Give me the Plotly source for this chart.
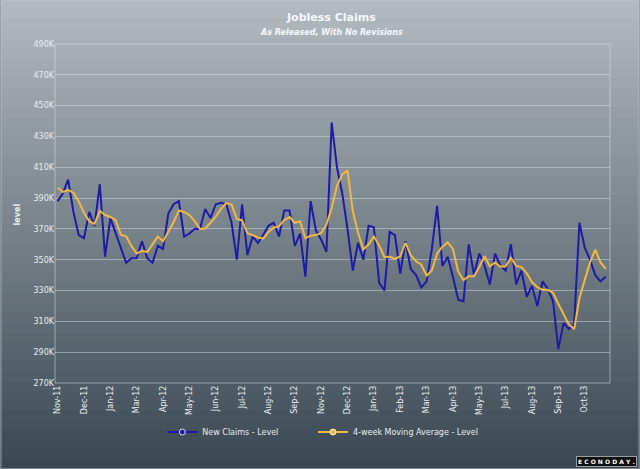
import plotly.graph_objects as go

# ---------------- data (weekly, as released, thousands) ----------------
weeks = list(range(105))
new_claims = [388, 393, 402, 381, 366, 364, 381, 372, 399, 352,
              377, 367, 358, 348, 351, 351, 362, 351, 348, 359,
              357, 380, 386, 388, 365, 367, 370, 370, 383, 377,
              386, 387, 386, 374, 350, 386, 353, 365, 361, 366,
              372, 374, 365, 382, 382, 359, 367, 339, 388, 369,
              363, 355, 439, 410, 393, 370, 343, 361, 350, 372,
              371, 335, 330, 368, 366, 341, 362, 344, 340, 332,
              336, 357, 385, 346, 352, 339, 324, 323, 360, 340,
              354, 346, 334, 354, 346, 343, 360, 334, 343, 326,
              333, 320, 336, 331, 323, 292, 309, 305, 308, 374,
              358, 350, 340, 336, 339]
moving_avg = [396.75, 394.0, 395.25, 393.5, 387.75, 380.5, 375.0, 373.25, 381.75, 379.0,
              377.75, 375.75, 366.25, 365.25, 359.0, 354.0, 355.75, 355.0, 360.0, 365.0,
              362.0, 367.75, 374.25, 382.0, 381.0, 379.0, 375.0, 370.0, 370.25, 374.0,
              378.0, 383.0, 386.75, 385.75, 376.5, 375.5, 367.25, 366.0, 364.5, 363.75,
              368.0, 370.75, 371.75, 375.75, 377.75, 374.0, 375.0, 364.0, 365.5, 366.0,
              367.25, 372.75, 383.75, 398.0, 405.25, 408.0, 381.5, 367.5, 356.75, 360.0,
              365.0, 359.25, 351.75, 352.0, 350.5, 352.25, 361.0, 353.0, 349.0, 346.75,
              339.75, 343.0, 354.0, 358.5, 361.25, 357.0, 342.25, 336.75, 339.25, 339.25,
              345.25, 352.25, 345.75, 348.25, 345.5, 345.75, 351.25, 346.0, 345.25, 341.25,
              335.5, 332.25, 330.5, 330.5, 328.5, 321.25, 314.5, 308.0, 305.0, 325.0,
              336.75, 348.25, 356.5, 348.25, 344.0]
tick_pos = list(range(0, 101, 5))
tick_labels = ["Nov-11", "Dec-11", "Jan-12", "Mar-12", "Apr-12", "May-12", "Jun-12",
               "Jul-12", "Aug-12", "Sep-12", "Nov-12", "Dec-12", "Jan-13", "Feb-13",
               "Mar-13", "Apr-13", "May-13", "Jul-13", "Aug-13", "Sep-13", "Oct-13"]
y_ticks = list(range(270, 491, 20))
y_labels = [f"{v}K" for v in y_ticks]

BLUE = "#1c1ca6"
ORANGE = "#efb846"
TXT = "#e9edef"
FONT = "DejaVu Sans"

W, H = 640, 469
L, R, T, B = 54.5, 610.5, 44.3, 383.0   # plot area in pixels
pw, ph = R - L, B - T


def px_x(x):
    return (x - L) / pw


def px_y(y):
    return (B - y) / ph


fig = go.Figure()
fig.add_trace(go.Scatter(x=weeks, y=new_claims, mode="lines", name="New Claims - Level",
                         line=dict(color=BLUE, width=2), showlegend=False))
fig.add_trace(go.Scatter(x=weeks, y=moving_avg, mode="lines", name="4-week Moving Average - Level",
                         line=dict(color=ORANGE, width=2), showlegend=False))
# legend entries (one legend box each, placed like the reference)
fig.add_trace(go.Scatter(x=[None], y=[None], mode="lines+markers", name="New Claims - Level",
                         line=dict(color=BLUE, width=2), legend="legend",
                         marker=dict(color=BLUE, size=6, line=dict(color="#d8dce8", width=1))))
fig.add_trace(go.Scatter(x=[None], y=[None], mode="lines+markers", name="4-week Moving Average - Level",
                         line=dict(color=ORANGE, width=2), legend="legend2",
                         marker=dict(color=ORANGE, size=6, line=dict(color="#fff4d8", width=1))))

# background gradient bands
shapes = []
top_c = (180, 187, 192)
bot_c = (57, 71, 81)
n = 48
for i in range(n):
    y0 = i * H / n
    y1 = (i + 1) * H / n + 0.6
    f = (i + 0.5) / n
    c = tuple(int(round(top_c[k] + (bot_c[k] - top_c[k]) * f)) for k in range(3))
    shapes.append(dict(type="rect", xref="paper", yref="paper", layer="below",
                       x0=px_x(0), x1=px_x(W), y0=px_y(y1), y1=px_y(y0),
                       fillcolor=f"rgb{c}", line=dict(width=0)))
# outer border
shapes.append(dict(type="rect", xref="paper", yref="paper", layer="below",
                   x0=px_x(0.5), x1=px_x(W - 0.5), y0=px_y(H - 0.5), y1=px_y(0.5),
                   fillcolor="rgba(0,0,0,0)", line=dict(color="rgba(200,208,212,0.5)", width=1)))
# plot frame
shapes.append(dict(type="rect", xref="paper", yref="paper", layer="below",
                   x0=0, x1=1, y0=0, y1=1, fillcolor="rgba(0,0,0,0)",
                   line=dict(color="rgba(215,222,226,0.55)", width=1)))

annotations = [
    dict(text="<b>Jobless Claims</b>", x=px_x(331), y=px_y(18), xref="paper", yref="paper",
         showarrow=False, font=dict(family=FONT, size=11, color="#f6f7f8"),
         xanchor="center", yanchor="middle"),
    dict(text="<b><i>As Released, With No Revisions</i></b>", x=px_x(331), y=px_y(33),
         xref="paper", yref="paper", showarrow=False,
         font=dict(family=FONT, size=8, color="#f6f7f8"), xanchor="center", yanchor="middle"),
    dict(text="<b>level</b>", x=px_x(17), y=px_y(215), xref="paper", yref="paper",
         showarrow=False, textangle=-90, font=dict(family=FONT, size=8, color=TXT),
         xanchor="center", yanchor="middle"),
    dict(text="<b>E C O N O D A Y .</b>", x=px_x(638), y=px_y(467), xref="paper", yref="paper",
         showarrow=False, font=dict(family=FONT, size=6, color="#ffffff"),
         bgcolor="#111111", bordercolor="#9aa0a4", borderwidth=1, borderpad=1,
         xanchor="right", yanchor="bottom"),
]

leg_common = dict(orientation="h", yanchor="middle", y=px_y(432), xanchor="left",
                  font=dict(family=FONT, size=8, color=TXT), bgcolor="rgba(0,0,0,0)",
                  itemwidth=30)

fig.update_layout(
    width=W, height=H,
    margin=dict(l=L, r=W - R, t=T, b=H - B, pad=0),
    paper_bgcolor="rgb(120,130,137)",
    plot_bgcolor="rgba(0,0,0,0)",
    shapes=shapes,
    annotations=annotations,
    font=dict(family=FONT, size=8, color=TXT),
    showlegend=True,
    legend=dict(x=px_x(162), **leg_common),
    legend2=dict(x=px_x(313), **leg_common),
    xaxis=dict(range=[-0.5, 104.8], tickmode="array", tickvals=tick_pos, ticktext=tick_labels,
               tickangle=-90, showgrid=False, zeroline=False, showline=False, ticks="",
               tickfont=dict(family=FONT, size=8, color=TXT)),
    yaxis=dict(range=[270, 490], tickmode="array", tickvals=y_ticks, ticktext=y_labels,
               showgrid=True, gridcolor="rgba(225,231,234,0.45)", gridwidth=1,
               zeroline=False, showline=False, ticks="",
               tickfont=dict(family=FONT, size=8, color=TXT)),
)

fig.write_html("out.html", config={"displayModeBar": False},
               post_script="document.body.style.margin='0px';")
